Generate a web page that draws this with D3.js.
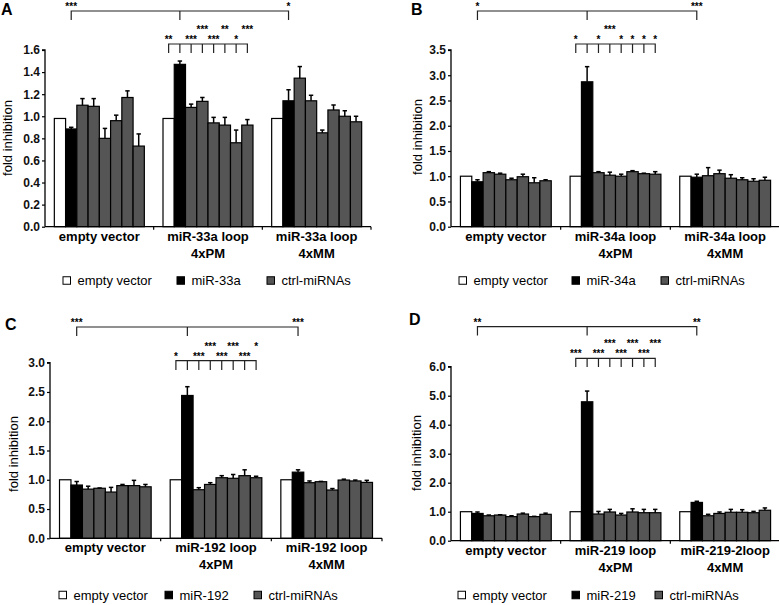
<!DOCTYPE html>
<html>
<head>
<meta charset="utf-8">
<script src="https://cdn.jsdelivr.net/npm/d3@7"></script>
<style>
  html, body { margin: 0; padding: 0; background: #fff; }
  svg { display: block; font-family: "Liberation Sans", Arial, Helvetica, sans-serif; }
</style>
</head>
<body>
<svg id="chart" width="779" height="605"></svg>
<script>
// ---------- DATA ----------
const barNames = ["empty vector", "miRNA", "ctrl-1", "ctrl-2", "ctrl-3", "ctrl-4", "ctrl-5", "ctrl-6"];

const groupsA = ["empty vector", "miR-33a loop|4xPM", "miR-33a loop|4xMM"];
const valuesA = [
  [0.98, 0.885, 1.10, 1.09, 0.80, 0.96, 1.17, 0.73],
  [0.98, 1.47, 1.08, 1.135, 0.94, 0.92, 0.76, 0.92],
  [0.98, 1.14, 1.345, 1.14, 0.85, 1.057, 1.00, 0.95]
];
const errorsA = [
  [0, 0.015, 0.06, 0.07, 0.09, 0.05, 0.06, 0.11],
  [0, 0.03, 0.03, 0.035, 0.05, 0.07, 0.115, 0.05],
  [0, 0.10, 0.105, 0.05, 0.025, 0.045, 0.05, 0.05]
];
const ticksA = [0, 0.2, 0.4, 0.6, 0.8, 1.0, 1.2, 1.4, 1.6];
const legendA = ["empty vector", "miR-33a", "ctrl-miRNAs"];
const topStarsA = ["***", "*"];
const innerStarsA = ["**", "", "***", "***", "***", "**", "*", "***"];
const innerRowsA = [0, 0, 0, 1, 0, 1, 0, 1];

const groupsB = ["empty vector", "miR-34a loop|4xPM", "miR-34a loop|4xMM"];
const valuesB = [
  [1.0, 0.89, 1.07, 1.04, 0.93, 0.99, 0.87, 0.91],
  [1.0, 2.87, 1.07, 1.02, 1.00, 1.09, 1.05, 1.04],
  [1.0, 0.98, 1.01, 1.05, 0.96, 0.93, 0.90, 0.92]
];
const errorsB = [
  [0, 0.04, 0.02, 0.02, 0.03, 0.05, 0.10, 0.02],
  [0, 0.30, 0.02, 0.06, 0.04, 0.02, 0.01, 0.05],
  [0, 0.06, 0.16, 0.07, 0.07, 0.04, 0.05, 0.06]
];
const ticksB = [0, 0.5, 1.0, 1.5, 2.0, 2.5, 3.0, 3.5];
const legendB = ["empty vector", "miR-34a", "ctrl-miRNAs"];
const topStarsB = ["*", "***"];
const innerStarsB = ["*", "", "*", "***", "*", "*", "*", "*"];
const innerRowsB = [0, 0, 0, 1, 0, 0, 0, 0];

const groupsC = ["empty vector", "miR-192 loop|4xPM", "miR-192 loop|4xMM"];
const valuesC = [
  [1.0, 0.91, 0.84, 0.855, 0.79, 0.90, 0.90, 0.88],
  [1.0, 2.44, 0.83, 0.92, 1.035, 1.025, 1.07, 1.035],
  [1.0, 1.13, 0.95, 0.967, 0.825, 0.995, 0.98, 0.955]
];
const errorsC = [
  [0, 0.06, 0.05, 0.005, 0.08, 0.02, 0.09, 0.04],
  [0, 0.15, 0.035, 0.03, 0.035, 0.065, 0.10, 0.025],
  [0, 0.04, 0.03, 0.005, 0.025, 0.015, 0.015, 0.035]
];
const ticksC = [0, 0.5, 1.0, 1.5, 2.0, 2.5, 3.0];
const legendC = ["empty vector", "miR-192", "ctrl-miRNAs"];
const topStarsC = ["***", "***"];
const innerStarsC = ["*", "", "***", "***", "***", "***", "***", "*"];
const innerRowsC = [0, 0, 0, 1, 0, 1, 0, 1];

const groupsD = ["empty vector", "miR-219 loop|4xPM", "miR-219-2loop|4xMM"];
const valuesD = [
  [1.0, 0.94, 0.86, 0.885, 0.83, 0.92, 0.83, 0.91],
  [1.0, 4.79, 0.92, 0.99, 0.885, 0.99, 0.965, 0.965],
  [1.0, 1.32, 0.86, 0.94, 0.98, 0.98, 0.965, 1.05]
];
const errorsD = [
  [0, 0.05, 0.025, 0.01, 0.03, 0.03, 0.01, 0.04],
  [0, 0.37, 0.09, 0.09, 0.055, 0.11, 0.115, 0.115],
  [0, 0.04, 0.05, 0.05, 0.10, 0.09, 0.045, 0.08]
];
const ticksD = [0, 1, 2, 3, 4, 5, 6];
const legendD = ["empty vector", "miR-219", "ctrl-miRNAs"];
const topStarsD = ["**", "**"];
const innerStarsD = ["***", "", "***", "***", "***", "***", "***", "***"];
const innerRowsD = [0, 0, 0, 1, 0, 1, 0, 1];

// ---------- LAYOUT ----------
const panels = [
  { letter: "A", groups: groupsA, values: valuesA, errors: errorsA, ticks: ticksA, legend: legendA,
    topStars: topStarsA, innerStars: innerStarsA, innerRows: innerRowsA,
    x0: 45, x1: 371, yBase: 226.7, yTop: 50, letterX: 1, letterY: 15, ylabX: 12, ylabY: 138,
    topBr: 11, topBrBot: 20, innerBr: 44, innerBrBot: 53, legendY: 280.5, legendXs: [63, 177, 267] },
  { letter: "B", groups: groupsB, values: valuesB, errors: errorsB, ticks: ticksB, legend: legendB,
    topStars: topStarsB, innerStars: innerStarsB, innerRows: innerRowsB,
    x0: 451, x1: 780, yBase: 226.7, yTop: 50, letterX: 411, letterY: 15, ylabX: 422, ylabY: 137,
    topBr: 11, topBrBot: 20, innerBr: 44, innerBrBot: 53, legendY: 280.5, legendXs: [459, 572, 661] },
  { letter: "C", groups: groupsC, values: valuesC, errors: errorsC, ticks: ticksC, legend: legendC,
    topStars: topStarsC, innerStars: innerStarsC, innerRows: innerRowsC,
    x0: 50, x1: 382, yBase: 538.3, yTop: 362.7, letterX: 5, letterY: 330, ylabX: 18, ylabY: 454,
    topBr: 327, topBrBot: 336, innerBr: 360.7, innerBrBot: 370, legendY: 595, legendXs: [59, 165, 254] },
  { letter: "D", groups: groupsD, values: valuesD, errors: errorsD, ticks: ticksD, legend: legendD,
    topStars: topStarsD, innerStars: innerStarsD, innerRows: innerRowsD,
    x0: 451, x1: 780, yBase: 540.7, yTop: 366.7, letterX: 409, letterY: 325, ylabX: 421, ylabY: 453,
    topBr: 326.7, topBrBot: 335.5, innerBr: 358.3, innerBrBot: 367, legendY: 595, legendXs: [458, 572, 655] }
];

const fills = ["#ffffff", "#000000", "#555555", "#555555", "#555555", "#555555", "#555555", "#555555"];
const legendFills = ["#ffffff", "#000000", "#555555"];

const svg = d3.select("#chart");

panels.forEach(p => {
  const g = svg.append("g");
  const y = d3.scaleLinear().domain([0, d3.max(p.ticks)]).range([p.yBase, p.yTop]);
  const x = d3.scaleBand().domain(p.groups).range([p.x0, p.x1]).paddingInner(0).paddingOuter(0);
  const xb = d3.scaleBand().domain(barNames).range([0, x.bandwidth()]).paddingInner(0).paddingOuter(0.83);

  // panel letter
  g.append("text").attr("x", p.letterX).attr("y", p.letterY)
    .attr("font-size", 16).attr("font-weight", "bold").text(p.letter);

  // y axis
  const yAxis = d3.axisLeft(y).tickValues(p.ticks).tickSize(3).tickPadding(2)
    .tickFormat(d3.format(".1f"));
  const ya = g.append("g").attr("transform", `translate(${p.x0},0)`).call(yAxis);
  ya.select(".domain").attr("stroke", "#000").attr("stroke-width", 1.3).attr("d", `M-3,${p.yTop}H0V${p.yBase}`);
  ya.selectAll(".tick line").attr("stroke", "#000").attr("stroke-width", 1.2);
  ya.selectAll(".tick text").attr("font-size", 12).attr("font-weight", "bold").attr("fill", "#111")
    .attr("font-family", "Liberation Sans, Arial, sans-serif");

  // y label
  g.append("text").attr("transform", `translate(${p.ylabX},${p.ylabY}) rotate(-90)`)
    .attr("text-anchor", "middle").attr("font-size", 13).text("fold inhibition");

  // bars
  p.groups.forEach((grp, gi) => {
    const gg = g.append("g").attr("transform", `translate(${x(grp)},0)`);
    gg.selectAll("rect").data(p.values[gi]).join("rect")
      .attr("x", (d, i) => xb(barNames[i]))
      .attr("y", d => y(d))
      .attr("width", xb.bandwidth())
      .attr("height", d => y(0) - y(d))
      .attr("fill", (d, i) => fills[i])
      .attr("stroke", "#000").attr("stroke-width", 1.2);
    // error bars (upper only)
    p.errors[gi].forEach((e, i) => {
      if (e <= 0) return;
      const cx = xb(barNames[i]) + xb.bandwidth() / 2;
      const v = p.values[gi][i];
      gg.append("line").attr("x1", cx).attr("x2", cx).attr("y1", y(v)).attr("y2", y(v + e))
        .attr("stroke", "#000").attr("stroke-width", 1.5);
      gg.append("line").attr("x1", cx - 2.2).attr("x2", cx + 2.2).attr("y1", y(v + e)).attr("y2", y(v + e))
        .attr("stroke", "#000").attr("stroke-width", 1.5);
    });
  });

  // x axis line and separator ticks
  g.append("line").attr("x1", p.x0).attr("x2", p.x1).attr("y1", p.yBase).attr("y2", p.yBase)
    .attr("stroke", "#000").attr("stroke-width", 1.3);
  p.groups.forEach(grp => {
    const xe = x(grp) + x.bandwidth();
    g.append("line").attr("x1", xe).attr("x2", xe).attr("y1", p.yBase).attr("y2", p.yBase + 3)
      .attr("stroke", "#000").attr("stroke-width", 1.2);
  });

  // x labels
  p.groups.forEach(grp => {
    const lines = grp.split("|");
    const t = g.append("text").attr("text-anchor", "middle").attr("font-size", 13).attr("font-weight", "bold")
      .attr("x", x(grp) + x.bandwidth() / 2).attr("y", p.yBase + 14);
    lines.forEach((ln, li) => {
      t.append("tspan").attr("x", x(grp) + x.bandwidth() / 2).attr("dy", li === 0 ? 0 : 17).text(ln);
    });
  });

  // significance brackets
  const barCenter = (gi, bi) => x(p.groups[gi]) + xb(barNames[bi]) + xb.bandwidth() / 2;
  const lx = barCenter(0, 1), mx = barCenter(1, 1), rx = barCenter(2, 1);
  const br = g.append("g").attr("stroke", "#222").attr("stroke-width", 1.2).attr("fill", "none");
  br.append("path").attr("d", `M${lx},${p.topBrBot}V${p.topBr}H${rx}V${p.topBrBot}M${mx},${p.topBr}V${p.topBrBot}`);
  g.append("text").attr("x", lx).attr("y", p.topBr - 1).attr("text-anchor", "middle")
    .attr("font-size", 10).attr("font-weight", "bold").attr("fill", "#000").text(p.topStars[0]);
  g.append("text").attr("x", rx).attr("y", p.topBr - 1).attr("text-anchor", "middle")
    .attr("font-size", 10).attr("font-weight", "bold").attr("fill", "#000").text(p.topStars[1]);

  const ic = barNames.map((b, i) => barCenter(1, i));
  let d = `M${ic[0]},${p.innerBrBot}V${p.innerBr}H${ic[7]}V${p.innerBrBot}`;
  ic.slice(1, 7).forEach(cx => { d += `M${cx},${p.innerBr}V${p.innerBrBot}`; });
  br.append("path").attr("d", d);
  p.innerStars.forEach((s, i) => {
    if (!s) return;
    g.append("text").attr("x", ic[i]).attr("y", p.innerBr - 1 - p.innerRows[i] * 10)
      .attr("text-anchor", "middle").attr("font-size", 10).attr("font-weight", "bold").attr("fill", "#000").text(s);
  });

  // legend
  p.legend.forEach((name, i) => {
    const lxp = p.legendXs[i];
    g.append("rect").attr("x", lxp).attr("y", p.legendY - 3.75).attr("width", 7.5).attr("height", 7.5)
      .attr("fill", legendFills[i]).attr("stroke", "#000").attr("stroke-width", 1);
    g.append("text").attr("x", lxp + 14.5).attr("y", p.legendY + 4.5).attr("font-size", 13).text(name);
  });
});
</script>
</body>
</html>
